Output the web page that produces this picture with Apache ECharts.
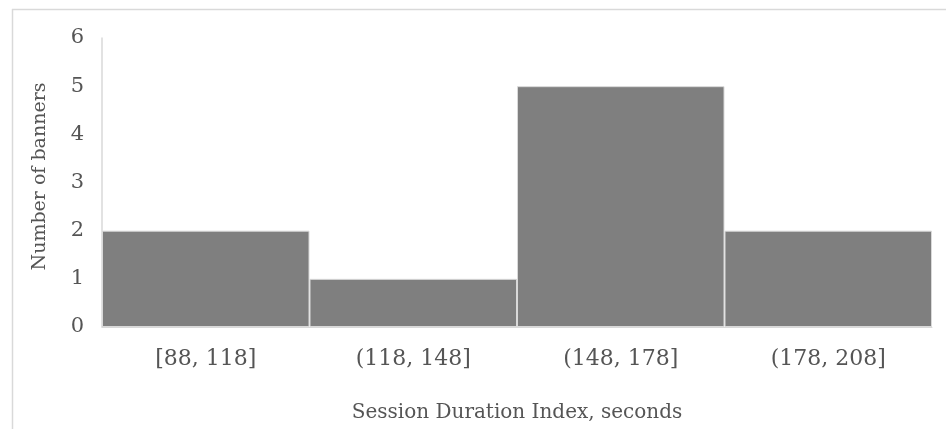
<!DOCTYPE html>
<html>
<head>
<meta charset="utf-8">
<script src="https://cdn.jsdelivr.net/npm/echarts@6/dist/echarts.min.js"></script>
<style>
html,body{margin:0;padding:0;background:#fff;}
#chart{width:946px;height:429px;}
</style>
</head>
<body>
<div id="chart"></div>
<script>
const categories = ['[88, 118]', '(118, 148]', '(148, 178]', '(178, 208]'];
const bannerCounts = [2, 1, 5, 2];
const yTicks = [0, 1, 2, 3, 4, 5, 6];
const xTitle = 'Session Duration Index, seconds';
const yTitle = 'Number of banners';

const textColor = '#555555';
const fontFam = 'DejaVu Serif';
const chart = echarts.init(document.getElementById('chart'));
chart.setOption({
  backgroundColor: '#fff',
  animation: false,
  grid: { left: 102, right: 14, top: 38, bottom: 102 },
  graphic: [
    { type: 'line', shape: { x1: 12, y1: 9.5, x2: 946, y2: 9.5 }, style: { stroke: '#d9d9d9', lineWidth: 1.5 } },
    { type: 'line', shape: { x1: 12.5, y1: 9, x2: 12.5, y2: 429 }, style: { stroke: '#d9d9d9', lineWidth: 1.5 } }
  ],
  xAxis: {
    type: 'category',
    data: categories,
    name: xTitle,
    nameLocation: 'middle',
    nameGap: 76,
    nameTextStyle: { color: textColor, fontFamily: fontFam, fontSize: 20 },
    axisLine: { show: true, lineStyle: { color: '#d9d9d9' } },
    axisTick: { show: false },
    axisLabel: { color: textColor, fontFamily: fontFam, fontSize: 22, margin: 21 }
  },
  yAxis: {
    type: 'value',
    min: yTicks[0],
    max: yTicks[yTicks.length - 1],
    interval: 1,
    name: yTitle,
    nameLocation: 'middle',
    nameGap: 52,
    nameRotate: 90,
    nameTextStyle: { color: textColor, fontFamily: fontFam, fontSize: 19, padding: [0, 0, 0, 12] },
    axisLine: { show: true, lineStyle: { color: '#d9d9d9', width: 1.5 } },
    axisTick: { show: false },
    splitLine: { show: false },
    axisLabel: { color: textColor, fontFamily: fontFam, fontSize: 21, margin: 18 }
  },
  series: [{
    type: 'bar',
    data: bannerCounts,
    barWidth: '100%',
    barCategoryGap: 0,
    itemStyle: { color: '#7f7f7f', borderColor: '#d9d9d9', borderWidth: 1 }
  }]
});
</script>
</body>
</html>
